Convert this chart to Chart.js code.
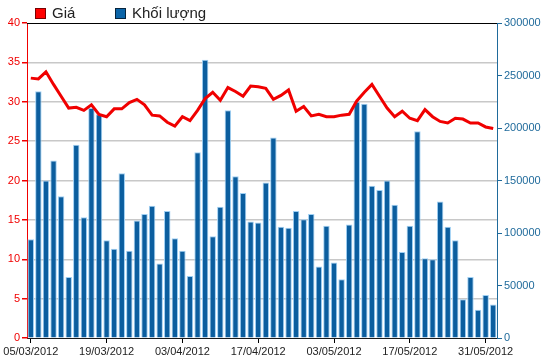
<!DOCTYPE html>
<html>
<head>
<meta charset="utf-8">
<script src="https://cdn.jsdelivr.net/npm/chart.js@4/dist/chart.umd.min.js"></script>
<style>
  html, body { margin: 0; padding: 0; background: #fff; }
  #wrap { width: 550px; height: 364px; }
</style>
</head>
<body>
<div id="wrap"><canvas id="chart" width="550" height="364"></canvas></div>
<script>
// trading days, one label per bar
var dates = [
  "05/03/2012", "06/03/2012", "07/03/2012", "08/03/2012", "09/03/2012",
  "12/03/2012", "13/03/2012", "14/03/2012", "15/03/2012", "16/03/2012",
  "19/03/2012", "20/03/2012", "21/03/2012", "22/03/2012", "23/03/2012",
  "26/03/2012", "27/03/2012", "28/03/2012", "29/03/2012", "30/03/2012",
  "03/04/2012", "04/04/2012", "05/04/2012", "06/04/2012", "09/04/2012",
  "10/04/2012", "11/04/2012", "12/04/2012", "13/04/2012", "16/04/2012",
  "17/04/2012", "18/04/2012", "19/04/2012", "20/04/2012", "23/04/2012",
  "24/04/2012", "25/04/2012", "26/04/2012", "27/04/2012", "02/05/2012",
  "03/05/2012", "04/05/2012", "07/05/2012", "08/05/2012", "09/05/2012",
  "10/05/2012", "11/05/2012", "14/05/2012", "15/05/2012", "16/05/2012",
  "17/05/2012", "18/05/2012", "21/05/2012", "22/05/2012", "23/05/2012",
  "24/05/2012", "25/05/2012", "28/05/2012", "29/05/2012", "30/05/2012",
  "31/05/2012", "01/06/2012"
];

// Giá (left axis)
var price = [
  33.0, 32.9, 33.8, 32.2, 30.7, 29.2, 29.3, 28.9, 29.6, 28.4,
  28.1, 29.1, 29.1, 29.9, 30.3, 29.6, 28.3, 28.2, 27.4, 26.9,
  28.1, 27.6, 28.9, 30.4, 31.2, 30.2, 31.8, 31.3, 30.7, 32.0,
  31.9, 31.7, 30.3, 30.8, 31.5, 28.8, 29.4, 28.2, 28.4, 28.1,
  28.1, 28.3, 28.4, 30.1, 31.2, 32.2, 30.7, 29.2, 28.1, 28.8,
  27.9, 27.6, 29.0, 28.1, 27.5, 27.3, 27.9, 27.8, 27.3, 27.3,
  26.8, 26.6
];

// Khối lượng (right axis)
var volume = [
  94000, 235000, 150000, 169000, 135000, 58000, 184000, 115000, 219000, 213000,
  93000, 85000, 157000, 83000, 112000, 118000, 126000, 71000, 121000, 95000,
  83000, 59000, 177000, 265000, 97000, 125000, 217000, 154000, 138000, 111000,
  110000, 148000, 191000, 106000, 105000, 121000, 113000, 118000, 68000, 107000,
  72000, 56000, 108000, 225000, 223000, 145000, 141000, 150000, 127000, 82000,
  107000, 197000, 76000, 75000, 130000, 106000, 93000, 37000, 58000, 27000,
  41000, 32000
];

var legendItems = ["Giá", "Khối lượng"];

var RED = "#f00000";
var BLUE = "#0b5e9f";
var AXISBLUE = "#1f6a9b";
var FONT = "'Liberation Sans', Arial, sans-serif";

// legend + top border drawn by hand, like the original image
var customLegend = {
  id: "customLegend",
  afterDraw: function (chart) {
    var ctx = chart.ctx;
    var area = chart.chartArea;
    ctx.save();
    ctx.strokeStyle = "#000";
    ctx.lineWidth = 1;
    ctx.beginPath();
    ctx.moveTo(area.left, area.top + 0.5);
    ctx.lineTo(area.right, area.top + 0.5);
    ctx.stroke();

    var boxes = [
      { x: 35, fill: "#ff0000", edge: "#7a0000" },
      { x: 115, fill: "#0b64a8", edge: "#06243d" }
    ];
    ctx.font = "15px " + FONT;
    ctx.textBaseline = "middle";
    boxes.forEach(function (b, i) {
      ctx.fillStyle = b.fill;
      ctx.fillRect(b.x, 8, 11, 11);
      ctx.strokeStyle = b.edge;
      ctx.strokeRect(b.x + 0.5, 8.5, 10, 10);
      ctx.fillStyle = "#222";
      ctx.fillText(legendItems[i], b.x + 17, 14);
    });
    ctx.restore();
  }
};

var config = {
  type: "bar",
  data: {
    labels: dates,
    datasets: [
      {
        type: "line",
        label: legendItems[0],
        data: price,
        yAxisID: "y",
        borderColor: RED,
        borderWidth: 3,
        pointRadius: 0,
        tension: 0,
        order: 0
      },
      {
        type: "bar",
        label: legendItems[1],
        data: volume,
        yAxisID: "y1",
        backgroundColor: BLUE,
        borderColor: "#9fd0f4",
        borderWidth: 1,
        barPercentage: 0.85,
        categoryPercentage: 1,
        order: 1
      }
    ]
  },
  options: {
    responsive: false,
    animation: false,
    layout: { padding: { top: 23, left: 0, right: 0, bottom: 0 } },
    plugins: {
      legend: { display: false },
      tooltip: { enabled: false }
    },
    scales: {
      x: {
        offset: true,
        afterFit: function (s) { s.height = 26; },
        grid: {
          offset: false,
          drawOnChartArea: false,
          drawTicks: true,
          tickLength: 5,
          tickColor: "#000"
        },
        border: { color: "#1a1a1a", width: 1 },
        ticks: {
          autoSkip: false,
          maxRotation: 0,
          padding: 2,
          color: "#222",
          font: { family: FONT, size: 11 },
          callback: function (v, i) {
            return i % 10 === 0 ? dates[i] : null;
          }
        }
      },
      y: {
        position: "left",
        min: 0,
        max: 40,
        afterFit: function (s) { s.width = 27; },
        grid: {
          color: function (c) {
            return (c.tick.value === 0 || c.tick.value === 40) ? "rgba(0,0,0,0)" : "#c8c8c8";
          },
          lineWidth: 1.5,
          tickColor: RED,
          tickLength: 5
        },
        border: { color: RED, width: 1 },
        ticks: {
          stepSize: 5,
          padding: 2,
          color: RED,
          font: { family: FONT, size: 11 }
        }
      },
      y1: {
        position: "right",
        min: 0,
        max: 300000,
        afterFit: function (s) { s.width = 53; },
        grid: {
          drawOnChartArea: false,
          tickColor: AXISBLUE,
          tickLength: 5
        },
        border: { color: AXISBLUE, width: 1 },
        ticks: {
          stepSize: 50000,
          padding: 2,
          color: AXISBLUE,
          font: { family: FONT, size: 11 },
          callback: function (v) { return String(v); }
        }
      }
    }
  },
  plugins: [customLegend]
};

var myChart = new Chart(document.getElementById("chart"), config);
</script>
</body>
</html>
